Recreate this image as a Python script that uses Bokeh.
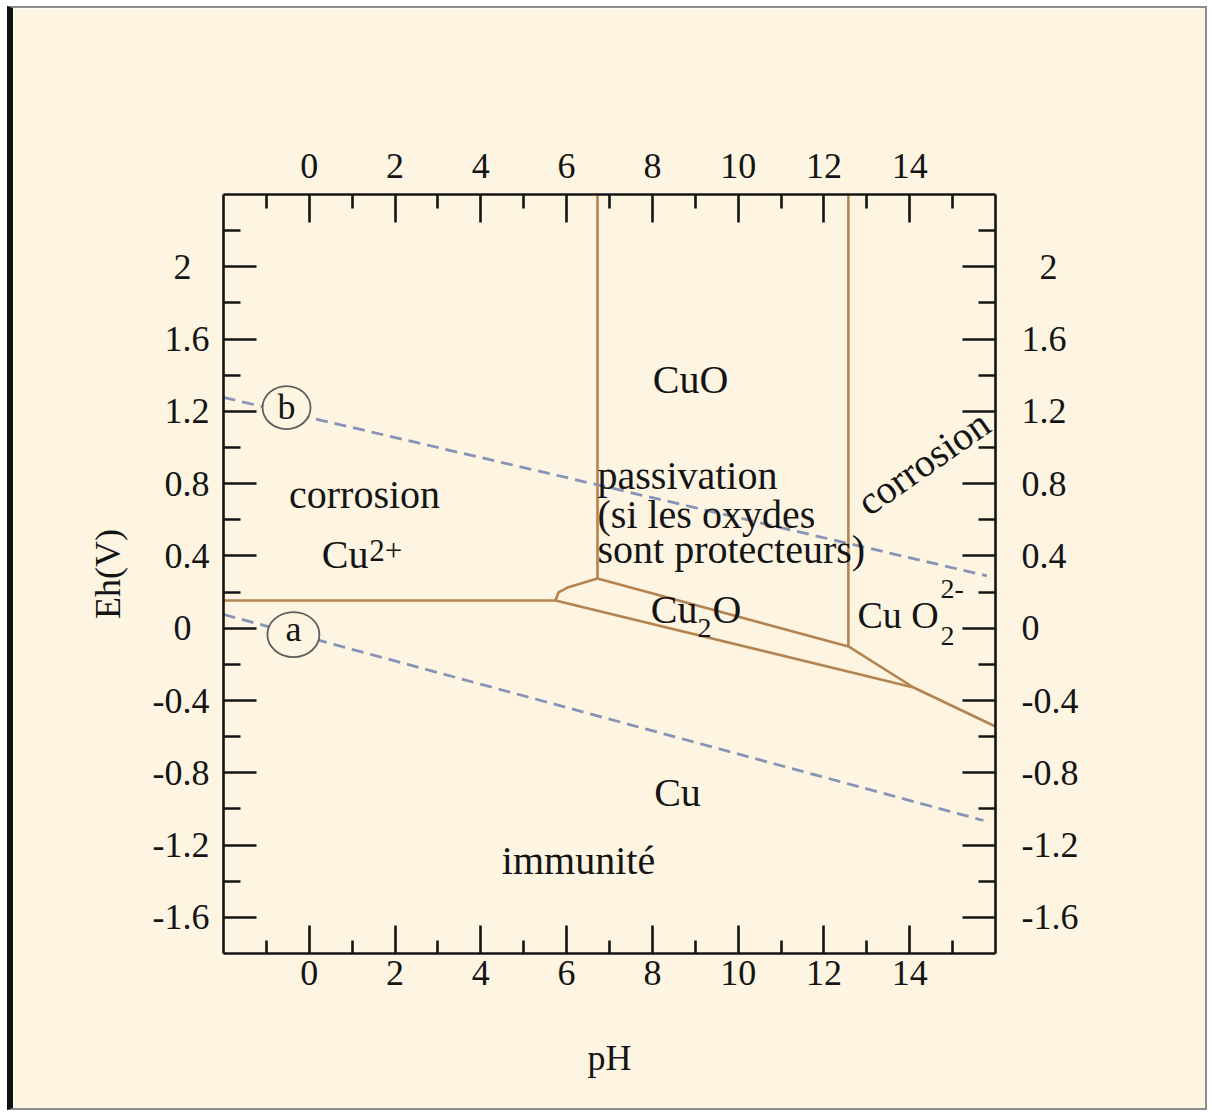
from bokeh.plotting import figure
from bokeh.models import (Range1d, LinearAxis, FixedTicker, CustomJSTickFormatter, Label)
from bokeh.embed import file_html
from bokeh.resources import INLINE

# ---------------- data ----------------
x_ticks = [0, 2, 4, 6, 8, 10, 12, 14]
x_minor = [-1, 1, 3, 5, 7, 9, 11, 13, 15]
y_ticks = [-1.6, -1.2, -0.8, -0.4, 0, 0.4, 0.8, 1.2, 1.6, 2.0]
y_minor = [-1.4, -1.0, -0.6, -0.2, 0.2, 0.6, 1.0, 1.4, 1.8, 2.2]

# phase boundaries (pH, Eh)
cu2_cu_ph = [-2.0, 5.74]
cu2_cu_eh = [0.153, 0.153]
cu2_cu2o_ph = [5.74, 5.81, 6.02, 6.72]
cu2_cu2o_eh = [0.153, 0.198, 0.225, 0.275]
cu2_cuo_ph = [6.72, 6.72]
cu2_cuo_eh = [0.275, 2.4]
cuo_cu2o_ph = [6.72, 12.57]
cuo_cu2o_eh = [0.275, -0.101]
cuo_cuo2_ph = [12.57, 12.57]
cuo_cuo2_eh = [-0.101, 2.4]
cuo2_cu2o_ph = [12.57, 14.09]
cuo2_cu2o_eh = [-0.101, -0.328]
cu2o_cu_ph = [5.74, 14.09]
cu2o_cu_eh = [0.153, -0.328]
cuo2_cu_ph = [14.09, 16.0]
cuo2_cu_eh = [-0.328, -0.544]

# water stability lines (dashed)
line_b_ph = [-2.0, 15.8]
line_b_eh = [1.277, 0.29]
line_a_ph = [-2.0, 15.72]
line_a_eh = [0.076, -1.064]

# ---------------- styling ----------------
BG = "#FDF5E2"
TAN = "#B5834F"
DASH = "#8893B6"
INK = "#141414"
SERIF = "Liberation Serif"
PX_PER_V = 759 / 4.2

p = figure(width=1200, height=1104, x_range=Range1d(-2, 16), y_range=Range1d(-1.8, 2.4),
           output_backend="svg", toolbar_location=None,
           min_border_left=210, min_border_right=218, min_border_top=186, min_border_bottom=159,
           background_fill_color=BG, border_fill_color=BG)
p.styles = {"border-left": "6px solid #111111", "border-top": "2px solid #8C8C8C",
            "border-right": "2px solid #8C8C8C", "border-bottom": "2px solid #8C8C8C",
            "margin-left": "7px", "margin-top": "6px"}
p.grid.visible = False
p.outline_line_color = None

xb = p.xaxis[0]
yl = p.yaxis[0]
xt = LinearAxis()
yr = LinearAxis()
p.add_layout(xt, "above")
p.add_layout(yr, "right")

fx = CustomJSTickFormatter(code="return tick.toFixed(0);")
fyl = CustomJSTickFormatter(code="""
let s = Math.abs(tick) < 1e-9 ? "0" : tick.toFixed(1).replace(/\\.0$/, "");
if (s == "2" || s == "0") { s = s + "\\u2007"; }
return s;""")
fyr = CustomJSTickFormatter(code="""
let s = Math.abs(tick) < 1e-9 ? "0" : tick.toFixed(1).replace(/\\.0$/, "");
if (s == "2") { s = "\\u2007" + s; }
return s;""")


def style(ax, ticks, minor, tin, mtin, standoff, fmt):
    ax.ticker = FixedTicker(ticks=ticks, minor_ticks=minor)
    ax.formatter = fmt
    ax.major_tick_in = tin
    ax.major_tick_out = 0
    ax.minor_tick_in = mtin
    ax.minor_tick_out = 0
    ax.axis_line_width = 2.6
    ax.axis_line_color = INK
    ax.major_tick_line_width = 2.6
    ax.minor_tick_line_width = 2.6
    ax.major_tick_line_color = INK
    ax.minor_tick_line_color = INK
    ax.major_label_text_font = SERIF
    ax.major_label_text_font_size = "36px"
    ax.major_label_text_color = INK
    ax.major_label_standoff = standoff
    ax.axis_label_text_font = SERIF
    ax.axis_label_text_font_size = "36px"
    ax.axis_label_text_font_style = "normal"
    ax.axis_label_text_color = INK


style(xb, x_ticks, x_minor, 28, 13, 7, fx)
style(xt, x_ticks, x_minor, 28, 14, 17, fx)
style(yl, y_ticks, y_minor, 33, 17, 14, fyl)
style(yr, y_ticks, y_minor, 33, 17, 26, fyr)
xb.axis_label = "pH"
xb.axis_label_standoff = 50
yl.axis_label = "Eh(V)"
yl.axis_label_standoff = 22

# phase boundaries
for xs, ys in [(cu2_cu_ph, cu2_cu_eh), (cu2_cu2o_ph, cu2_cu2o_eh), (cu2_cuo_ph, cu2_cuo_eh),
               (cuo_cu2o_ph, cuo_cu2o_eh), (cuo_cuo2_ph, cuo_cuo2_eh),
               (cuo2_cu2o_ph, cuo2_cu2o_eh), (cu2o_cu_ph, cu2o_cu_eh),
               (cuo2_cu_ph, cuo2_cu_eh)]:
    p.line(xs, ys, line_color=TAN, line_width=2.6)

# water lines
p.line(line_b_ph, line_b_eh, line_color=DASH, line_width=2.8, line_dash="12 7")
p.line(line_a_ph, line_a_eh, line_color=DASH, line_width=2.8, line_dash="12 7")

# circled letters
p.ellipse(x=[-0.53, -0.37], y=[1.221, -0.035], width=[48, 52], height=[43, 45],
          width_units="screen", height_units="screen",
          fill_color=BG, line_color="#5E5E5E", line_width=1.8)


def lab(x, y, text, size=40, align="left", baseline="alphabetic", angle=0):
    if baseline == "alphabetic":
        y = y + 0.33 * size / PX_PER_V   # lift to the intended baseline
    p.add_layout(Label(x=x, y=y, text=text, text_font=SERIF, text_font_size=f"{size}px",
                       text_color=INK, text_align=align, text_baseline=baseline,
                       angle=angle, angle_units="deg"))


lab(-0.53, 1.160, "b", 36, "center")
lab(-0.37, -0.068, "a", 36, "center")

lab(8.89, 1.304, "CuO", 40, "center")
lab(6.72, 0.773, "passivation")
lab(6.72, 0.557, "(si les oxydes")
lab(6.72, 0.364, "sont protecteurs)")
lab(1.288, 0.668, "corrosion", 40, "center")
lab(1.381, 0.336, "Cu", 40, "right")
lab(1.40, 0.375, "2+", 31, "left")
lab(9.05, 0.032, "Cu", 40, "right")
lab(9.05, -0.051, "2", 28, "left")
lab(9.40, 0.032, "O", 40, "left")
lab(12.78, 0.004, "Cu O", 38, "left")
lab(14.72, -0.096, "2", 28, "left")
lab(14.72, 0.164, "2-", 28, "left")
lab(14.32, 0.917, "corrosion", 40, "center", "middle", 35)
lab(8.585, -0.981, "Cu", 40, "center")
lab(6.277, -1.357, "immunité", 40, "center")

open("out.html", "w", encoding="utf-8").write(file_html(p, INLINE))
